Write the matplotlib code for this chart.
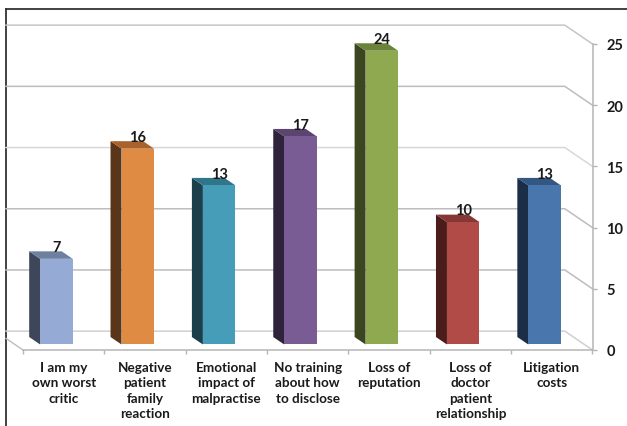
import matplotlib
matplotlib.use('Agg')
import matplotlib.pyplot as plt
from matplotlib.patches import Polygon

plt.rcParams['font.family'] = ['Lato', 'DejaVu Sans']

categorias = ['I am my\nown worst\ncritic', 'Negative\npatient\nfamily\nreaction',
              'Emotional\nimpact of\nmalpractise', 'No training\nabout how\nto disclose',
              'Loss of\nreputation', 'Loss of\ndoctor\npatient\nrelationship',
              'Litigation\ncosts']
valores = [7, 16, 13, 17, 24, 10, 13]
ticks_y = [0, 5, 10, 15, 20, 25]

frente = ['#95abd5', '#e08b44', '#469db8', '#7a5c94', '#8fa950', '#b14b47', '#4976ad']
lado = ['#3e4659', '#5a3517', '#1b3f4b', '#2f233b', '#3b4520', '#4a1c1a', '#1c2e47']
topo = ['#6e80a0', '#a9622c', '#31758a', '#5b4470', '#6b8339', '#843735', '#335683']
cor_grade = ['#cfcfcf', '#bdbdbd', '#bdbdbd', '#d8d8d8', '#bdbdbd', '#c6c6c6']

# deslocamentos da perspectiva, em unidades dos dados
largura = 0.4
centro_dx = -0.089
base_dy = 0.45
prof_dx = -0.135
prof_dy = 0.61
parede_dx = -0.34
parede_dy = 1.54
esquerda = -0.209

fig = plt.figure(figsize=(6.27, 4.27), dpi=100)

# moldura: so as linhas de cima e da esquerda
fundo = fig.add_axes([6 / 627, 0, 1 - 6 / 627, 1 - 10 / 427])
fundo.set_xticks([])
fundo.set_yticks([])
for lado_spine in ['right', 'bottom']:
    fundo.spines[lado_spine].set_visible(False)
for lado_spine in ['left', 'top']:
    fundo.spines[lado_spine].set_color('#333333')
    fundo.spines[lado_spine].set_linewidth(1.3)

ax = fig.add_axes([23 / 627, 76 / 427, 569.5 / 627, 306 / 427])
ax.patch.set_visible(False)
ax.set_xlim(0, 7)
ax.set_ylim(0, 25)

# grade nas paredes de tras
for v, cor in zip(ticks_y, cor_grade):
    ax.plot([esquerda, 7 + parede_dx, 7], [v + parede_dy, v + parede_dy, v],
            color=cor, lw=1.1, clip_on=False, zorder=1)
ax.plot([0, esquerda], [0, parede_dy * esquerda / parede_dx], color='#bdbdbd', lw=1.0,
        clip_on=False, zorder=1)

# barras: frente, lateral e topo
for i, v in enumerate(valores):
    x0 = i + 0.5 + centro_dx - largura / 2
    x1 = x0 + largura
    y0 = base_dy
    y1 = v + base_dy
    ax.add_patch(Polygon([(x0, y0), (x0 + prof_dx, y0 + prof_dy), (x0 + prof_dx, y1 + prof_dy), (x0, y1)],
                         facecolor=lado[i], edgecolor='none', zorder=3, clip_on=False))
    ax.add_patch(Polygon([(x0, y1), (x0 + prof_dx, y1 + prof_dy), (x1 + prof_dx, y1 + prof_dy), (x1, y1)],
                         facecolor=topo[i], edgecolor='none', zorder=3, clip_on=False))
    ax.bar(x0 + largura / 2, v, largura, bottom=y0, color=frente[i], zorder=4, clip_on=False)
    ax.text(x0 + largura / 2, y1 + 0.95, str(v), ha='center', va='center', fontsize=10.5,
            fontweight='bold', color='#1a1a1a', zorder=5)

for s in ['top', 'left']:
    ax.spines[s].set_visible(False)
for s in ['right', 'bottom']:
    ax.spines[s].set_color('#b5b5b5')
    ax.spines[s].set_linewidth(1.1)

ax.yaxis.tick_right()
ax.set_yticks(ticks_y)
ax.tick_params(axis='y', length=3, width=1, color='#b5b5b5', pad=7, labelsize=10.5, labelcolor='#1a1a1a')
for t in ax.get_yticklabels():
    t.set_fontweight('bold')

ax.set_xticks(range(8))
ax.set_xticklabels([])
ax.tick_params(axis='x', which='major', length=3, width=1, color='#b5b5b5')
ax.set_xticks([i + 0.5 for i in range(7)], categorias, minor=True)
ax.tick_params(axis='x', which='minor', length=0, pad=8, labelsize=9.7, labelcolor='#1a1a1a')
for t in ax.get_xticklabels(minor=True):
    t.set_fontweight('bold')
    t.set_linespacing(1.32)
    t.set_ha('center')
    t.set_multialignment('center')

fig.savefig('out.png', dpi=100)
